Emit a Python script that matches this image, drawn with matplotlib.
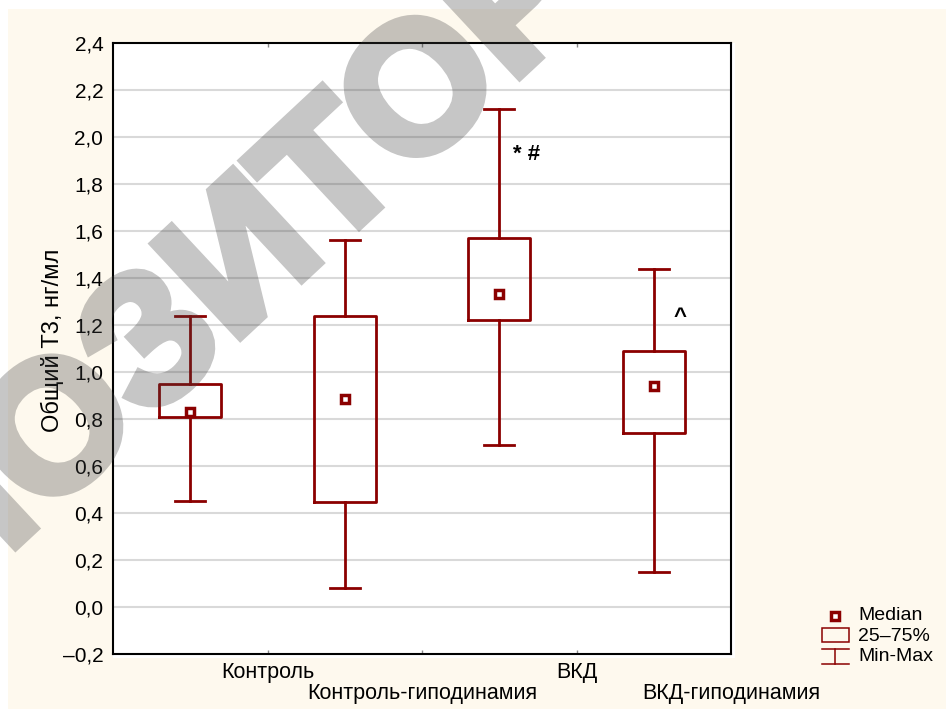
import matplotlib
matplotlib.use('Agg')
import matplotlib.pyplot as plt
import matplotlib.patheffects as pe
from matplotlib.patches import Rectangle

plt.rcParams['font.family'] = ['Liberation Sans', 'DejaVu Sans']

# группы и статистика (мин, 25%, медиана, 75%, макс)
groups = ['Контроль', 'Контроль-гиподинамия', 'ВКД', 'ВКД-гиподинамия']
mins = [0.45, 0.08, 0.69, 0.15]
q1 = [0.81, 0.445, 1.22, 0.74]
medians = [0.83, 0.885, 1.33, 0.94]
q3 = [0.95, 1.24, 1.57, 1.09]
maxs = [1.24, 1.56, 2.12, 1.44]

yticks = [-0.2, 0.0, 0.2, 0.4, 0.6, 0.8, 1.0, 1.2, 1.4, 1.6, 1.8, 2.0, 2.2, 2.4]
ytick_labels = ['–0,2', '0,0', '0,2', '0,4', '0,6', '0,8', '1,0', '1,2',
                '1,4', '1,6', '1,8', '2,0', '2,2', '2,4']

# значки достоверности: (группа, уровень, текст)
marks = [(3.18, 1.90, '* #'), (4.17, 1.21, '^')]

red = '#8b0000'
cream = '#fef9ee'

fig = plt.figure(figsize=(9.46, 7.09), dpi=100)
fig.patch.set_facecolor('white')
W, H = 946, 709

# кремовая подложка
fig.patches.append(Rectangle((8 / W, 0), 1, 1 - 9 / H, transform=fig.transFigure,
                             facecolor=cream, edgecolor='none', zorder=-10))
# белое поле под графиком
fig.patches.append(Rectangle((113 / W, 1 - 658 / H), 622 / W, 615 / H,
                             transform=fig.transFigure, facecolor='white',
                             edgecolor='none', zorder=-9))

ax = fig.add_axes([113 / W, 1 - 654 / H, 618 / W, 611 / H])
ax.set_facecolor('white')

pos = list(range(1, len(groups) + 1))
stats = [dict(whislo=mins[i], q1=q1[i], med=medians[i], q3=q3[i], whishi=maxs[i])
         for i in range(len(groups))]
lw = 2.0
ax.bxp(stats, positions=pos, widths=0.40, capwidths=0.195, showfliers=False,
       boxprops=dict(color=red, linewidth=lw),
       whiskerprops=dict(color=red, linewidth=lw),
       capprops=dict(color=red, linewidth=lw),
       medianprops=dict(linestyle='none'), zorder=3)
ax.plot(pos, medians, linestyle='none', marker='s', markersize=5.4,
        markerfacecolor='white', markeredgecolor=red, markeredgewidth=2.5, zorder=4)

for x, y, t in marks:
    ax.text(x, y, t, ha='center', va='baseline', fontsize=16, fontweight='bold',
            color='black', zorder=5)

ax.set_xlim(0.5, 4.5)
ax.set_ylim(-0.2, 2.4)
ax.set_yticks(yticks)
ax.set_yticklabels(ytick_labels)
ax.tick_params(axis='y', length=0, pad=7, labelsize=15)

# сетка только по внутренним уровням
for y in yticks[1:-1]:
    ax.axhline(y, color='#d9d9d9', linewidth=1.5, zorder=1)

# границы между группами — мелкие засечки
ax.set_xticks([1.5, 2.5, 3.5])
ax.set_xticklabels([])
ax.tick_params(axis='x', direction='in', length=3, width=1, color='#888888',
               top=True, bottom=True)

# подписи групп в шахматном порядке
for i, g in enumerate(groups):
    yoff = -0.031 if i % 2 == 0 else -0.064
    ax.annotate(g, xy=(pos[i] + 0.5, yoff), xycoords=('data', 'axes fraction'),
                ha='center', va='center', fontsize=15.5, annotation_clip=False)

for s in ax.spines.values():
    s.set_color('black')
    s.set_linewidth(1.5)

ax.set_ylabel('Общий Т3, нг/мл', fontsize=17)
ax.yaxis.set_label_coords(-0.08, 0.514)

# легенда справа внизу
lg = fig.add_axes([0, 0, 1, 1], facecolor='none')
lg.set_xlim(0, W)
lg.set_ylim(H, 0)
lg.axis('off')
lg.plot([835], [615.5], linestyle='none', marker='s', markersize=5.4,
        markerfacecolor='white', markeredgecolor=red, markeredgewidth=2.5)
lg.add_patch(Rectangle((821.5, 628), 27, 14, facecolor='none', edgecolor=red,
                       linewidth=1.1))
lg.plot([821.5, 848.5], [648.5, 648.5], color=red, linewidth=1.1)
lg.plot([821.5, 848.5], [664, 664], color=red, linewidth=1.1)
lg.plot([835, 835], [648.5, 664], color=red, linewidth=1.1)
for yy, t in [(615, 'Median'), (636.5, '25–75%'), (656.5, 'Min-Max')]:
    lg.text(858, yy, t, ha='left', va='center', fontsize=14)


# водяной знак: рисуем непрозрачно, прозрачность задаём фильтром целиком
def fade(img, dpi):
    img[..., 3] *= 0.3
    return img, 0, 0


wm = fig.text(248 / W, 1 - 264 / H, 'РЕПОЗИТОРИЙ', rotation=43,
              rotation_mode='anchor', ha='center', va='center', fontsize=132,
              fontweight='bold', color='#404040', zorder=20)
wm.set_path_effects([pe.Stroke(linewidth=7, foreground='#404040', joinstyle='miter'),
                     pe.Normal()])
wm.set_agg_filter(fade)

fig.savefig('out.png', dpi=100)
